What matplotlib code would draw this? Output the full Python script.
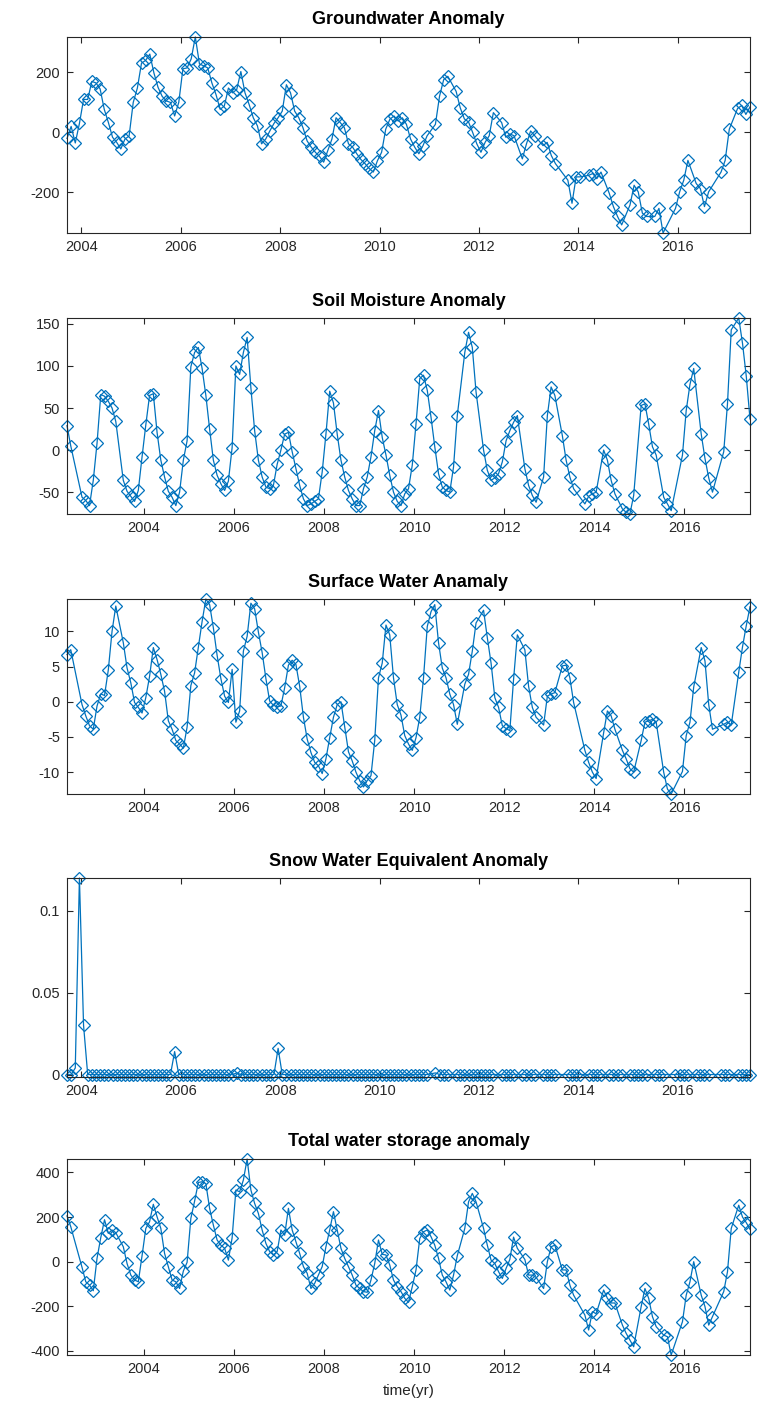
import matplotlib
matplotlib.use("Agg")
import matplotlib.pyplot as plt

plt.rcParams['font.family'] = ['Liberation Sans', 'DejaVu Sans']
plt.rcParams['axes.unicode_minus'] = False

# GRACE months (missing months left out)
months = {
    2002: [4, 5, 8, 9, 10, 11, 12],
    2003: [1, 2, 3, 4, 5, 7, 8, 9, 10, 11, 12],
    2004: list(range(1, 13)),
    2005: list(range(1, 13)),
    2006: list(range(1, 13)),
    2007: list(range(1, 13)),
    2008: list(range(1, 13)),
    2009: list(range(1, 13)),
    2010: list(range(1, 13)),
    2011: [2, 3, 4, 5, 7, 8, 9, 10, 11, 12],
    2012: [1, 2, 3, 4, 6, 7, 8, 9, 11, 12],
    2013: [1, 2, 4, 5, 6, 7, 10, 11, 12],
    2014: [1, 3, 4, 5, 6, 8, 9, 10, 11],
    2015: [1, 2, 3, 4, 5, 7, 8, 9, 12],
    2016: [1, 2, 3, 5, 6, 7, 8, 11, 12],
    2017: [1, 3, 4, 5, 6],
}
time_all = [y + (m - 0.5) / 12 for y in sorted(months) for m in months[y]]
time_gw = [t for t in time_all if t > 2003.65]  # groundwater / snow start Sep 2003

groundwater = (
    [-20, 20, -35, 30] +
    [110, 110, 170, 165, 145, 77, 33, -16, -33, -55, -22, -12] +
    [100, 148, 231, 240, 261, 198, 150, 120, 105, 100, 55, 100] +
    [212, 215, 245, 318, 228, 222, 215, 165, 126, 77, 88, 148] +
    [132, 143, 203, 132, 93, 49, 22, -38, -22, 5, 30, 49] +
    [71, 159, 132, 71, 49, 16, -28, -49, -66, -80, -99, -60] +
    [-22, 49, 33, 16, -38, -49, -71, -90, -104, -120, -132, -94] +
    [-66, 11, 44, 55, 38, 49, 27, -22, -49, -71, -44, -11] +
    [27, 121, 176, 187, 137, 82, 45, 35, 0, -38] +
    [-66, -33, -11, 66, 33, -16, -5, -11, -88, -38] +
    [5, -11, -44, -33, -77, -104, -159, -236, -148] +
    [-148, -143, -137, -154, -132, -203, -247, -280, -308] +
    [-242, -176, -198, -269, -280, -280, -253, -335, -253] +
    [-198, -159, -93, -170, -187, -247, -198, -132, -93] +
    [11, 80, 90, 60, 85]
)

soil = (
    [29, 5, -56, -60, -66, -36, 8] +
    [66, 64, 58, 50, 34, -36, -49, -55, -61, -48, -8] +
    [30, 65, 67, 21, -12, -32, -49, -56, -66, -50, -12, 11] +
    [99, 116, 122, 97, 65, 25, -12, -30, -40, -48, -37, 3] +
    [100, 90, 116, 134, 74, 23, -12, -32, -44, -46, -42, -17] +
    [0, 19, 21, -2, -22, -42, -58, -66, -64, -61, -58, -26] +
    [19, 70, 56, 19, -12, -32, -48, -58, -66, -66, -46, -32] +
    [-8, 23, 47, 15, -6, -30, -50, -61, -66, -52, -46, -18] +
    [31, 85, 89, 71, 39, 4, -28, -44, -48, -50, -20, 41] +
    [116, 140, 122, 69, 0, -24, -36, -33, -28, -14] +
    [11, 23, 33, 41, -22, -42, -54, -62, -32, 41] +
    [75, 65, 17, -12, -32, -46, -64, -55, -52] +
    [-50, 0, -12, -36, -52, -70, -74, -76, -54] +
    [53, 55, 31, 4, -6, -56, -64, -72, -6] +
    [47, 78, 97, 19, -10, -33, -50, -2, 55] +
    [143, 157, 127, 88, 37]
)

surface = (
    [6.7, 7.4, -0.4, -2.0, -3.4, -3.9, -0.6] +
    [1.1, 0.9, 4.5, 10.0, 13.6, 8.4, 4.8, 2.7, -0.1, -0.8, -1.6] +
    [0.6, 3.6, 7.7, 6.0, 3.9, 1.5, -2.7, -3.9, -5.5, -6.0, -6.6, -3.6] +
    [2.3, 4.1, 7.7, 11.4, 14.6, 13.8, 10.5, 6.6, 3.3, 0.8, -0.1, 4.6] +
    [-2.9, -1.3, 7.2, 9.3, 14.0, 13.2, 9.9, 7.0, 3.3, 0.1, -0.5, -0.7] +
    [-0.6, 2.0, 5.2, 5.9, 5.3, 2.2, -2.2, -5.3, -7.2, -8.6, -9.1, -10.2] +
    [-8.1, -5.1, -2.2, -0.4, 0.0, -3.6, -7.1, -8.4, -10.0, -11.2, -12.1, -11.2] +
    [-10.5, -5.5, 3.4, 5.5, 10.9, 9.5, 3.4, -0.4, -1.9, -4.8, -6.0, -6.9] +
    [-5.1, -2.2, 3.4, 10.7, 12.8, 13.8, 8.4, 4.8, 3.4, 1.1, -0.4, -3.2] +
    [2.5, 3.9, 7.2, 11.2, 13.0, 9.1, 5.5, 0.6, -0.8, -3.4] +
    [-3.8, -4.1, 3.2, 9.5, 7.4, 2.2, -0.8, -2.2, -3.3, 0.8] +
    [1.1, 1.3, 5.1, 5.2, 3.4, -0.1, -6.9, -8.6, -10.0] +
    [-10.9, -4.4, -1.3, -2.0, -3.9, -6.9, -8.1, -9.5, -10.0] +
    [-5.5, -2.9, -2.7, -2.5, -2.9, -10.0, -12.4, -13.1, -9.9] +
    [-4.8, -2.9, 2.1, 7.7, 5.8, -0.4, -3.9, -3.2, -2.9] +
    [-3.3, 4.2, 7.8, 10.8, 13.5]
)

snow = (
    [0, 0, 0.004, 0.12] +
    [0.03, 0, 0, 0, 0, 0, 0, 0, 0, 0, 0, 0] +
    [0, 0, 0, 0, 0, 0, 0, 0, 0, 0, 0.014, 0] +
    [0, 0, 0, 0, 0, 0, 0, 0, 0, 0, 0, 0] +
    [0, 0.001, 0, 0, 0, 0, 0, 0, 0, 0, 0, 0.016] +
    [0, 0, 0, 0, 0, 0, 0, 0, 0, 0, 0, 0] +
    [0, 0, 0, 0, 0, 0, 0, 0, 0, 0, 0, 0] +
    [0, 0, 0, 0, 0, 0, 0, 0, 0, 0, 0, 0] +
    [0.001, 0, 0, 0, 0, 0, 0, 0, 0, 0] +
    [0, 0, 0, 0, 0, 0, 0, 0, 0, 0] +
    [0, 0, 0, 0, 0, 0, 0, 0, 0] +
    [0, 0, 0, 0, 0, 0, 0, 0, 0] +
    [0, 0, 0, 0, 0, 0, 0, 0, 0] +
    [0, 0, 0, 0, 0, 0, 0, 0, 0] +
    [0, 0, 0, 0, 0]
)

total = (
    [205, 157, -25, -90, -105, -130, 15] +
    [108, 188, 127, 142, 130, 67, -8, -60, -82, -90, 27] +
    [149, 179, 257, 201, 149, 37, -22, -82, -90, -120, -42, -3] +
    [194, 271, 355, 358, 350, 239, 164, 97, 74, 60, 7, 107] +
    [321, 313, 366, 460, 321, 261, 216, 142, 82, 45, 30, 45] +
    [142, 119, 239, 142, 90, 37, -22, -52, -120, -97, -60, -22] +
    [67, 142, 224, 142, 60, 15, -22, -60, -105, -120, -134, -137] +
    [-82, -8, 97, 33, 30, -15, -82, -112, -134, -164, -182, -112] +
    [-37, 104, 134, 142, 112, 74, 15, -60, -90, -127, -60, 27] +
    [149, 268, 306, 268, 149, 74, 7, -8, -45, -75] +
    [-30, 10, 110, 60, 10, -60, -60, -70, -120, 0] +
    [67, 74, -37, -37, -105, -150, -239, -306, -224] +
    [-233, -127, -164, -185, -185, -284, -321, -351, -381] +
    [-201, -120, -164, -246, -291, -329, -336, -418, -269] +
    [-150, -90, 0, -150, -201, -284, -246, -134, -45] +
    [149, 253, 200, 175, 145]
)

titles = ["Groundwater Anomaly", "Soil Moisture Anomaly", "Surface Water Anamaly",
          "Snow Water Equivalent Anomaly", "Total water storage anomaly"]
yticks = [[-200, 0, 200], [-50, 0, 50, 100, 150], [-10, -5, 0, 5, 10],
          [0, 0.05, 0.1], [-400, -200, 0, 200, 400]]
yticklabels = [None, None, None, ["0", "0.05", "0.1"], None]
xticks = [2004, 2006, 2008, 2010, 2012, 2014, 2016]

series = [(time_gw, groundwater), (time_all, soil), (time_all, surface),
          (time_gw, snow), (time_all, total)]

W, H = 757, 1428
fig = plt.figure(figsize=(W / 100, H / 100), dpi=100)
boxes = [(37, 233), (318, 514), (599, 794), (878, 1077), (1159, 1355)]
left, right = 67, 750
blue = '#0072BD'
dark = '#262626'

for i in range(5):
    top, bot = boxes[i]
    ax = fig.add_axes([left / W, 1 - bot / H, (right - left) / W, (bot - top) / H])
    t, v = series[i]
    ax.plot(t, v, '-', color=blue, lw=0.9, marker='D', ms=6.5, mfc='none',
            mec=blue, mew=0.9, clip_on=False)
    ax.set_xlim(t[0], t[-1])
    if i == 3:
        ax.set_ylim(-0.0015, max(v))
    else:
        ax.set_ylim(min(v), max(v))
    ax.set_xticks(xticks)
    ax.set_yticks(yticks[i])
    if yticklabels[i]:
        ax.set_yticklabels(yticklabels[i])
    ax.tick_params(direction='in', top=True, right=True, length=4, width=0.8,
                   labelsize=10.5, colors=dark, pad=5)
    for s in ax.spines.values():
        s.set_color(dark)
        s.set_linewidth(0.8)
    ax.set_title(titles[i], fontsize=13, fontweight='bold', color='black', pad=9)
    if i == 4:
        ax.set_xlabel("time(yr)", fontsize=11, color=dark, labelpad=6)

fig.savefig("out.png", dpi=100)
